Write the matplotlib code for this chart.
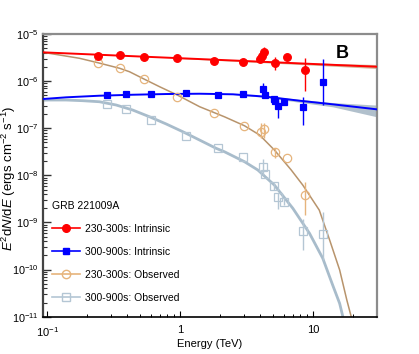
import numpy as np
import matplotlib
matplotlib.use('Agg')
import matplotlib.pyplot as plt
from matplotlib.lines import Line2D
from matplotlib.ticker import LogLocator, FixedLocator, FixedFormatter, NullFormatter

plt.rcParams['font.family'] = ['Liberation Sans', 'DejaVu Sans']
plt.rcParams['mathtext.fontset'] = 'custom'
plt.rcParams['mathtext.rm'] = 'Liberation Sans'
plt.rcParams['mathtext.it'] = 'Liberation Sans:italic'

# --- data points (TeV, erg cm-2 s-1) ---
red_E = [0.24, 0.351, 0.53, 0.95, 1.78, 2.99, 4.0, 4.14, 4.23, 5.18, 6.38, 8.6]
red_F = [3.46e-6, 3.53e-6, 3.30e-6, 3.09e-6, 2.67e-6, 2.50e-6, 2.94e-6, 3.46e-6, 4.08e-6, 2.39e-6, 3.30e-6, 1.72e-6]
red_lo = [3.46e-6, 3.53e-6, 3.30e-6, 3.09e-6, 2.67e-6, 2.50e-6, 2.60e-6, 3.00e-6, 2.94e-6, 1.72e-6, 2.90e-6, 6.17e-7]
red_hi = [3.46e-6, 3.53e-6, 3.30e-6, 3.09e-6, 2.67e-6, 2.50e-6, 3.30e-6, 4.00e-6, 5.37e-6, 3.29e-6, 3.80e-6, 3.14e-6]

blue_E = [0.281, 0.39, 0.601, 1.096, 1.92, 2.99, 4.18, 4.35, 5.05, 5.2, 5.42, 6.01, 8.35, 11.8]
blue_F = [5.14e-7, 5.25e-7, 5.32e-7, 5.59e-7, 5.14e-7, 5.25e-7, 6.79e-7, 5.07e-7, 4.17e-7, 3.85e-7, 3.0e-7, 3.66e-7, 2.78e-7, 9.7e-7]
blue_lo = [5.14e-7, 5.25e-7, 5.32e-7, 5.59e-7, 5.14e-7, 5.25e-7, 5.07e-7, 4.3e-7, 3.4e-7, 3.4e-7, 1.62e-7, 3.2e-7, 1.17e-7, 3.11e-7]
blue_hi = [5.14e-7, 5.25e-7, 5.32e-7, 5.59e-7, 5.14e-7, 5.25e-7, 9.25e-7, 6.0e-7, 4.7e-7, 4.7e-7, 3.97e-7, 4.2e-7, 4.67e-7, 2.94e-6]

tan_E = [0.24, 0.351, 0.53, 0.95, 1.78, 3.0, 4.02, 4.25, 5.18, 6.33, 8.6]
tan_F = [2.46e-6, 1.87e-6, 1.12e-6, 4.67e-7, 2.13e-7, 1.1e-7, 8.4e-8, 9.6e-8, 3.17e-8, 2.3e-8, 3.8e-9]
tan_lo = [2.46e-6, 1.87e-6, 1.12e-6, 4.67e-7, 2.13e-7, 1.1e-7, 6.1e-8, 6.1e-8, 2.3e-8, 2.3e-8, 1.44e-9]
tan_hi = [2.46e-6, 1.87e-6, 1.12e-6, 4.67e-7, 2.13e-7, 1.1e-7, 1.27e-7, 1.27e-7, 3.9e-8, 2.3e-8, 7.3e-9]

grey_E = [0.281, 0.39, 0.601, 1.096, 1.92, 2.99, 4.18, 4.37, 5.05, 5.42, 5.98, 8.35, 11.8]
grey_F = [3.31e-7, 2.6e-7, 1.49e-7, 6.93e-8, 3.74e-8, 2.48e-8, 1.52e-8, 1.07e-8, 5.93e-9, 3.41e-9, 2.73e-9, 6.67e-10, 5.58e-10]
grey_lo = [3.31e-7, 2.6e-7, 1.49e-7, 6.93e-8, 3.74e-8, 2.48e-8, 1.0e-8, 1.07e-8, 5.0e-9, 1.92e-9, 2.4e-9, 2.59e-10, 1.59e-10]
grey_hi = [3.31e-7, 2.6e-7, 1.49e-7, 6.93e-8, 3.74e-8, 2.48e-8, 2.2e-8, 1.07e-8, 7.0e-9, 4.2e-9, 3.1e-9, 1.16e-9, 1.69e-9]

# --- model curves ---
red_mod_E = [0.093, 0.3, 1.0, 3.0, 10.0, 30.0]
red_mod_F = [4.08e-6, 3.54e-6, 3.06e-6, 2.68e-6, 2.31e-6, 2.02e-6]
red_band_E = [1.0, 3.0, 10.0, 30.0]
red_band_lo = [3.0e-6, 2.58e-6, 2.18e-6, 1.85e-6]
red_band_hi = [3.1e-6, 2.75e-6, 2.42e-6, 2.25e-6]

blue_mod_E = [0.093, 0.139, 0.247, 0.44, 0.785, 1.40, 2.49, 4.43, 7.87, 14.0, 30.0]
blue_mod_F = [4.17e-7, 4.53e-7, 4.9e-7, 5.14e-7, 5.32e-7, 5.4e-7, 5.25e-7, 4.67e-7, 3.84e-7, 3.22e-7, 2.52e-7]
blue_band_E = [2.5, 4.4, 7.9, 14.0, 30.0]
blue_band_lo = [5.2e-7, 4.5e-7, 3.55e-7, 2.85e-7, 1.75e-7]
blue_band_hi = [5.3e-7, 4.85e-7, 4.1e-7, 3.5e-7, 3.1e-7]

tan_mod_E = [0.093, 0.124, 0.175, 0.24, 0.351, 0.416, 0.53, 0.70, 0.95, 1.40, 2.15, 3.04, 3.95,
             5.11, 6.83, 8.35, 11.1, 13.3, 15.8, 17.9, 19.3]
tan_mod_F = [4.08e-6, 3.58e-6, 3.05e-6, 2.46e-6, 1.87e-6, 1.58e-6, 1.12e-6, 7.6e-7, 5.07e-7, 2.86e-7, 1.75e-7,
             1.13e-7, 7.18e-8, 3.44e-8, 1.30e-8, 6.2e-9, 1.83e-9, 4.2e-10, 9.8e-11, 2.24e-11, 1.0e-11]

grey_mod_E = [0.0927, 0.139, 0.185, 0.247, 0.33, 0.44, 0.588, 0.785, 1.046, 1.397, 1.865, 2.15, 3.04, 3.83,
              5.11, 7.03, 9.38, 11.8, 14.0, 15.8, 16.7]
grey_mod_F = [3.97e-7, 3.97e-7, 3.84e-7, 3.65e-7, 3.11e-7, 2.43e-7, 1.75e-7, 1.23e-7, 8.43e-8, 5.62e-8, 3.74e-8,
              3.17e-8, 1.95e-8, 1.3e-8, 6.2e-9, 1.99e-9, 5.87e-10, 1.73e-10, 4.69e-11, 1.91e-11, 1.0e-11]

labels = ['230-300s: Intrinsic', '300-900s: Intrinsic', '230-300s: Observed', '300-900s: Observed']

c_red = '#ff0000'
c_blue = '#0000ff'
c_tan = '#e6b47c'
c_tan_line = '#b8946c'
c_grey = '#b4c6d4'
c_grey_line = '#a8bccb'

fig = plt.figure(figsize=(4.19, 3.54), dpi=100)
ax = fig.add_axes([43 / 419, 1 - 316.7 / 354, (376.7 - 43) / 419, (316.7 - 34) / 354])

# bands and model curves
ax.fill_between(red_band_E, red_band_lo, red_band_hi, color='#c9a27e', alpha=0.8, lw=0, zorder=1)
ax.fill_between(blue_band_E, blue_band_lo, blue_band_hi, color='#a9bac7', alpha=0.9, lw=0, zorder=1)
ax.plot(grey_mod_E, grey_mod_F, color=c_grey_line, lw=2.0, zorder=2, solid_capstyle='butt')
ax.plot(tan_mod_E, tan_mod_F, color=c_tan_line, lw=1.1, zorder=2)
ax.plot(red_mod_E, red_mod_F, color=c_red, lw=1.4, zorder=3)
ax.plot(blue_mod_E, blue_mod_F, color=c_blue, lw=1.4, zorder=3)

def draw_points(E, F, lo, hi, color, marker, filled, ms):
    E = np.array(E); F = np.array(F)
    yerr = [F - np.array(lo), np.array(hi) - F]
    ax.errorbar(E, F, yerr=yerr, fmt=marker, color=color, ms=ms, capsize=0, elinewidth=1.0,
                mfc=color if filled else 'none', mec=color, mew=0.9, zorder=4)

draw_points(tan_E, tan_F, tan_lo, tan_hi, c_tan, 'o', False, 6)
draw_points(grey_E, grey_F, grey_lo, grey_hi, c_grey, 's', False, 5.3)
draw_points(red_E, red_F, red_lo, red_hi, c_red, 'o', True, 5.5)
draw_points(blue_E, blue_F, blue_lo, blue_hi, c_blue, 's', True, 5.0)

ax.set_xscale('log')
ax.set_yscale('log')
ax.set_xlim(0.093, 30)
ax.set_ylim(1e-11, 1e-5)

ax.xaxis.set_major_locator(FixedLocator([0.1, 1, 10]))
ax.xaxis.set_major_formatter(FixedFormatter(['$10^{-1}$', '1', '10']))
ax.xaxis.set_minor_locator(LogLocator(base=10, subs=np.arange(2, 10)))
ax.xaxis.set_minor_formatter(NullFormatter())
ax.yaxis.set_major_locator(FixedLocator([1e-11, 1e-10, 1e-9, 1e-8, 1e-7, 1e-6, 1e-5]))
ax.yaxis.set_minor_locator(LogLocator(base=10, subs=np.arange(2, 10), numticks=10))
ax.yaxis.set_minor_formatter(NullFormatter())

ax.tick_params(axis='y', which='major', direction='in', length=6, width=1, labelsize=7.8, pad=3,
               right=False, colors='#333333', labelcolor='black')
ax.tick_params(axis='y', which='minor', direction='in', length=3, width=0.8, right=False, colors='#333333')
ax.tick_params(axis='x', which='major', direction='in', length=4, width=0.8, labelsize=8, pad=6, top=False)
ax.tick_params(axis='x', which='minor', direction='in', length=2.5, width=0.7, top=False)

for s in ['top', 'right']:
    ax.spines[s].set_color('#8c8c8c')
    ax.spines[s].set_linewidth(1.6)
ax.spines['left'].set_color('#444444')
ax.spines['left'].set_linewidth(1.6)
ax.spines['bottom'].set_color('black')
ax.spines['bottom'].set_linewidth(1.2)

ax.set_xlabel('Energy (TeV)', fontsize=8, labelpad=0)
ax.set_ylabel('$E^2$d$N$/d$E$ (ergs cm$^{-2}$ s$^{-1}$)', fontsize=9.5)
ax.yaxis.set_label_coords((18 - 43) / 333.7, 0.49)

ax.text((342.7 - 43) / 333.7, (316.7 - 54) / 282.7, 'B', transform=ax.transAxes,
        fontsize=13, fontweight='bold', ha='center', va='center')

handles = [
    Line2D([], [], color=c_red, marker='o', ms=5.5, lw=1.2),
    Line2D([], [], color=c_blue, marker='s', ms=5.0, lw=1.2),
    Line2D([], [], color=c_tan, marker='o', ms=6, mfc='none', lw=1.2),
    Line2D([], [], color=c_grey, marker='s', ms=5.3, mfc='none', lw=1.2),
]
leg = ax.legend(handles, labels, title='GRB 221009A', loc='upper left',
                bbox_to_anchor=(52 / 419, 1 - 201 / 354), bbox_transform=fig.transFigure,
                frameon=False, fontsize=7.5, title_fontsize=7.5, labelspacing=1.25,
                handlelength=2.7, handletextpad=0.5, borderpad=0, borderaxespad=0,
                alignment='left')

fig.savefig('out.png', dpi=100)
